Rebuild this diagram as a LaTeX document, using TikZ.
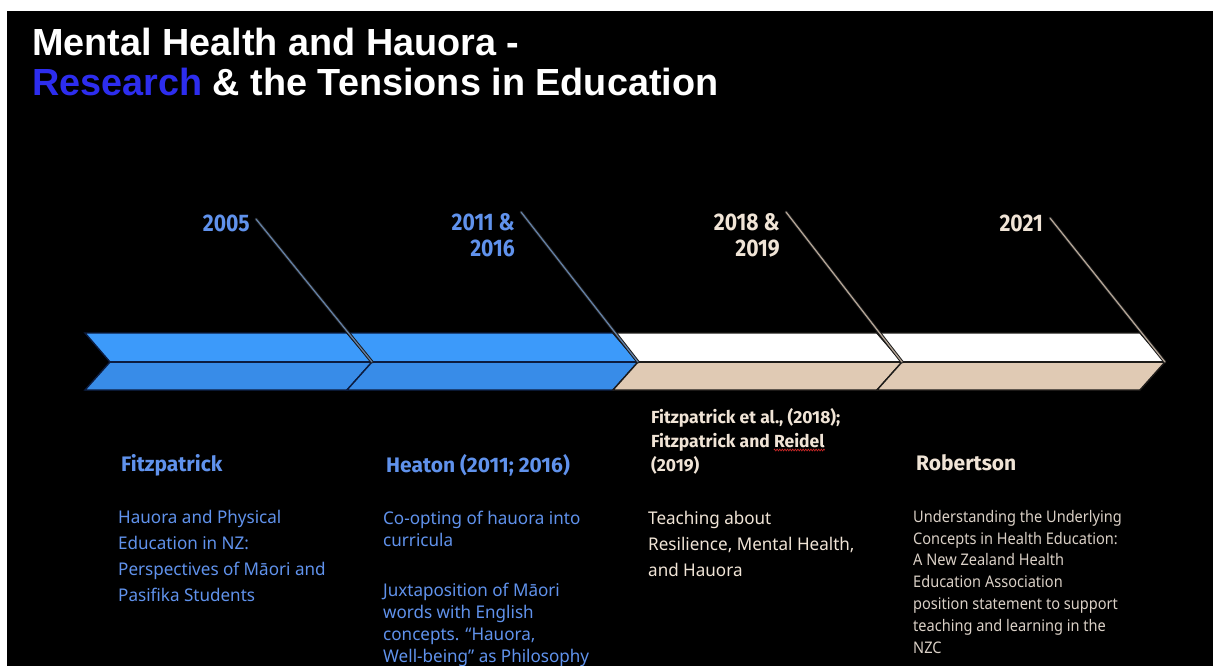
\documentclass[tikz,border=0pt]{standalone}
\usepackage{fontspec}
\setmainfont{Noto Sans}
\newfontfamily\titlefont{Liberation Sans}
\newfontfamily\bodyfont{Noto Sans}[FakeStretch=0.975]
\newfontfamily\narrowfont{Noto Sans}[FakeStretch=0.91]
\newfontfamily\headfont{Fira Sans}
\newfontfamily\condfont{Fira Sans}[FakeStretch=0.88]
\usetikzlibrary{decorations.pathmorphing}

\definecolor{chevblueT}{RGB}{60,154,250}
\definecolor{chevblueB}{RGB}{56,140,232}
\definecolor{chevbeige}{RGB}{224,202,180}
\definecolor{chevedgeB}{RGB}{12,28,64}
\definecolor{chevedgeW}{RGB}{30,28,26}
\definecolor{txtblue}{RGB}{96,146,236}
\definecolor{txtcream}{RGB}{240,228,214}
\definecolor{txtgrey}{RGB}{218,208,198}
\definecolor{leadblue}{RGB}{100,128,165}
\definecolor{leadtan}{RGB}{180,165,150}
\definecolor{research}{RGB}{45,45,238}
\definecolor{spellred}{RGB}{200,40,40}

% one chevron: left edge, tip, upper fill, lower fill, outline
\newcommand\drawchevron[5]{%
  \fill[#3] (#1,333) -- ({#2-25},333) -- (#2,362) -- ({#1+25},362) -- cycle;
  \fill[#4] ({#1+25},362) -- (#2,362) -- ({#2-25},390) -- (#1,390) -- cycle;
  \draw[#5, line width=1.4pt, line join=miter]
    (#1,333) -- ({#2-25},333) -- (#2,362) -- ({#2-25},390) -- (#1,390) -- ({#1+25},362) -- cycle;
  \draw[#5, line width=1.2pt] ({#1+25},362) -- (#2,362);
}

\tikzset{
  txt/.style={inner sep=0pt, align=left, anchor=north west},
  bodyA/.style={txt, font=\bodyfont\fontsize{17.5}{26}\selectfont},
  bodyB/.style={txt, font=\bodyfont\fontsize{17.5}{22}\selectfont},
  head/.style={txt, font=\headfont\bfseries\fontsize{21}{24}\selectfont},
  citeline/.style={inner sep=0pt, anchor=base west, text=txtcream,
    font=\headfont\bfseries\fontsize{17.5}{24}\selectfont},
  smallblk/.style={txt, font=\narrowfont\fontsize{16}{21.8}\selectfont},
  yearlab/.style={inner sep=0pt, align=right, anchor=north east,
    font=\condfont\bfseries\fontsize{24}{26}\selectfont},
  titleline/.style={inner sep=0pt, anchor=base west, text=white,
    font=\titlefont\bfseries\fontsize{37.8}{40}\selectfont},
  leader/.style={line width=1.3pt, line cap=round},
  casing/.style={line width=3.2pt, black!90, line cap=round},
  spellmark/.style={spellred, line width=0.7pt, decorate,
    decoration={zigzag, amplitude=0.9pt, segment length=2.6pt}},
}

\begin{document}
\begin{tikzpicture}[x=1pt, y=-1pt]
  \useasboundingbox (0,0) rectangle (1213,666);
  \fill[white] (0,0) rectangle (1213,666);
  \fill[black] (7,11) rectangle (1213,666);

  % title
  \node[titleline] (t1) at (32,56) {Mental Health and Hauora -};
  \node[titleline] (t2) at (32,95.5) {\textcolor{research}{Research} \& the Tensions in Education};

  % timeline arrows
  \drawchevron{85}{372}{chevblueT}{chevblueB}{chevedgeB}
  \drawchevron{347}{638}{chevblueT}{chevblueB}{chevedgeB}
  \drawchevron{613}{902}{white}{chevbeige}{chevedgeW}
  \drawchevron{877}{1165}{white}{chevbeige}{chevedgeW}

  \coordinate (tip1) at (372,362);
  \coordinate (tip2) at (638,362);
  \coordinate (tip3) at (902,362);
  \coordinate (tip4) at (1165,362);

  % year labels
  \node[yearlab, text=txtblue] (y1) at (250,215) {2005};
  \node[yearlab, text=txtblue] (y2) at (515,213) {2011 \&\\2016};
  \node[yearlab, text=txtcream] (y3) at (780,213) {2018 \&\\2019};
  \node[yearlab, text=txtcream] (y4) at (1043,215) {2021};

  \coordinate (s1) at (256,219);
  \coordinate (s2) at (521,212);
  \coordinate (s3) at (786,212);
  \coordinate (s4) at (1050,218);

  % leader lines from the years to the arrow tips
  \draw[casing] (s1) -- (tip1);
  \draw[casing] (s2) -- (tip2);
  \draw[casing] (s3) -- (tip3);
  \draw[casing] (s4) -- (tip4);
  \draw[leader, leadblue] (s1) -- (tip1);
  \draw[leader, leadblue] (s2) -- (tip2);
  \draw[leader, leadtan] (s3) -- (tip3);
  \draw[leader, leadtan] (s4) -- (tip4);

  % column 1
  \node[head, text=txtblue] (h1) at (121,454) {Fitzpatrick};
  \node[bodyA, text=txtblue] (b1) at (118,510)
    {Hauora and Physical\\Education in NZ:\\Perspectives of Māori and\\Pasifika Students};

  % column 2
  \node[head, text=txtblue] (h2) at (386,454) {Heaton (2011; 2016)};
  \node[bodyB, text=txtblue] (b2) at (383,511) {Co-opting of hauora into\\curricula};
  \node[bodyB, text=txtblue] (b2b) at (383,583)
    {Juxtaposition of Māori\\words with English\\concepts. “Hauora,\\Well-being” as Philosophy};

  % column 3
  \node[citeline] (c1) at (651,423) {Fitzpatrick et al., (2018);};
  \node[citeline] (c2) at (651,447) {Fitzpatrick and};
  \node[citeline] (c2r) at ([xshift=3.8pt]c2.base east) {Reidel};
  \node[citeline] (c3) at (651,471) {(2019)};
  \draw[spellmark] ([yshift=-3pt]c2r.base west) -- ([yshift=-3pt]c2r.base east);
  \node[bodyA, text=txtcream] (b3) at (648,511)
    {Teaching about\\Resilience, Mental Health,\\and Hauora};

  % column 4
  \node[head, text=txtcream] (h4) at (916,454) {Robertson};
  \node[smallblk, text=txtgrey] (b4) at (913,510)
    {Understanding the Underlying\\Concepts in Health Education:\\A New Zealand Health\\Education Association\\position statement to support\\teaching and learning in the\\NZC};
\end{tikzpicture}
\end{document}
